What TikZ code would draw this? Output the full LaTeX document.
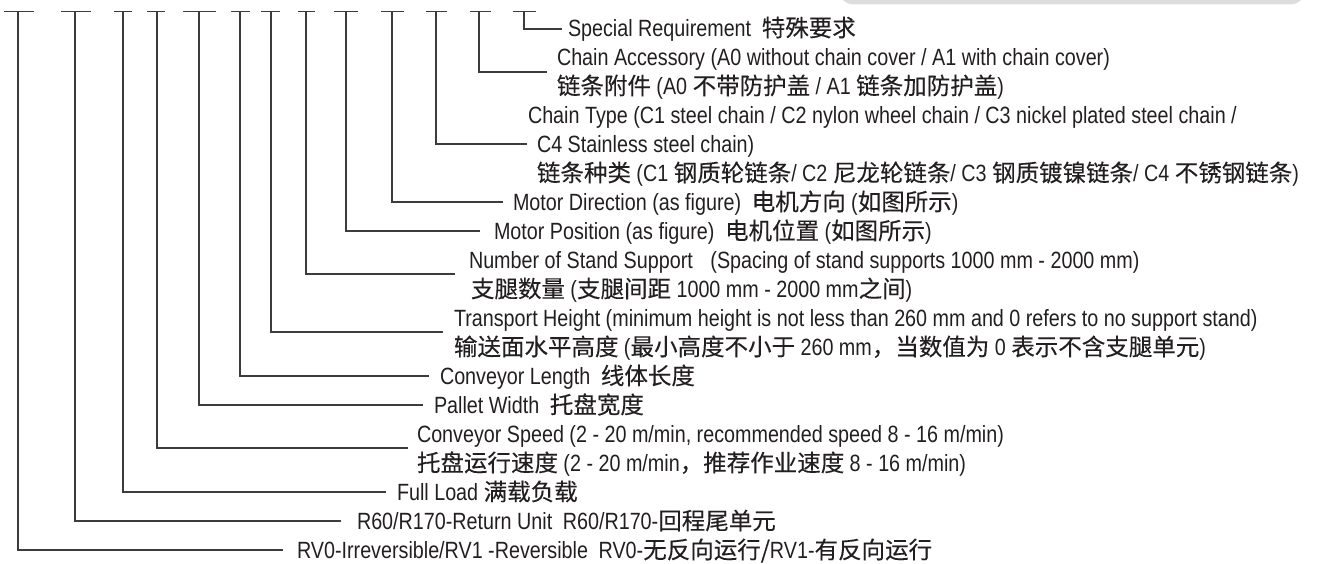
\documentclass[tikz,border=0pt]{standalone}
\usepackage{fontspec}
\setmainfont[FakeStretch=0.84]{Liberation Sans}
\newfontfamily\cjkf[Scale=1.0,FakeBold=0.2]{Noto Sans CJK SC}
\newcommand\zh[1]{{\cjkf #1}}
\newcommand\gapx{\hspace{0.45em}}
\definecolor{txtc}{HTML}{231F20}
\definecolor{linec}{HTML}{3C3C3C}
\definecolor{boxc}{HTML}{DDDDDD}
\begin{document}
\begin{tikzpicture}[x=1pt,y=-1pt,
  lbl/.style={anchor=base west,inner sep=0pt,outer sep=0pt,text=txtc,font=\fontsize{23.5}{28}\selectfont},
  conn/.style={draw=linec,line width=1.1pt},
  codebar/.style={draw=linec,line width=1.1pt}]
\useasboundingbox (0,0) rectangle (1329,564);
\fill[boxc, rounded corners=16pt] (838,-40) rectangle (1306,4.5);
% code ticks
\foreach \l/\r in {4/34, 61/91, 114/132, 147/165, 183/216, 231/250, 261/280, 298/315, 334/358, 381/404, 426/447, 470/491, 513/536}
  \draw[codebar] (\l,11.5) -- (\r,11.5);
% vertical start points
\coordinate (v1) at (18,11.5);
\coordinate (v2) at (75,11.5);
\coordinate (v3) at (123,11.5);
\coordinate (v4) at (157,11.5);
\coordinate (v5) at (199,11.5);
\coordinate (v6) at (240,11.5);
\coordinate (v7) at (271,11.5);
\coordinate (v8) at (306,11.5);
\coordinate (v9) at (346,11.5);
\coordinate (v10) at (392,11.5);
\coordinate (v11) at (436,11.5);
\coordinate (v12) at (479,11.5);
\coordinate (v13) at (524,11.5);
% connector ends
\coordinate (e13) at (562,29);
\coordinate (e12) at (547,72);
\coordinate (e11) at (527,144);
\coordinate (e10) at (503,202);
\coordinate (e9) at (480,231);
\coordinate (e8) at (455,274);
\coordinate (e7) at (443,332);
\coordinate (e6) at (429,376);
\coordinate (e5) at (423,405);
\coordinate (e4) at (408,448);
\coordinate (e3) at (386,492);
\coordinate (e2) at (341,521);
\coordinate (e1) at (283,550);
\foreach \i in {1,...,13} \draw[conn] (v\i) |- (e\i);
% labels
\node[lbl] (s1) at (568,36.4) {Special Requirement\gapx\zh{特殊要求}};
\node[lbl] (s2a) at (557,65.4) {Chain Accessory (A0 without chain cover / A1 with chain cover)};
\node[lbl] (s2b) at (557,94.4) {\zh{链条附件} (A0 \zh{不带防护盖} / A1 \zh{链条加防护盖})};
\node[lbl] (s3a) at (528,123.4) {Chain Type (C1 steel chain / C2 nylon wheel chain / C3 nickel plated steel chain /};
\node[lbl] (s3b) at (537,152.4) {C4 Stainless steel chain)};
\node[lbl] (s3c) at (537,181.4) {\zh{链条种类} (C1 \zh{钢质轮链条}/ C2 \zh{尼龙轮链条}/ C3 \zh{钢质镀镍链条}/ C4 \zh{不锈钢链条})};
\node[lbl] (s4) at (513,210.4) {Motor Direction (as figure)\gapx\zh{电机方向} (\zh{如图所示})};
\node[lbl] (s5) at (494,239.4) {Motor Position (as figure)\gapx\zh{电机位置} (\zh{如图所示})};
\node[lbl] (s6a) at (469,268.4) {Number of Stand Support\hspace{0.75em}(Spacing of stand supports 1000 mm - 2000 mm)};
\node[lbl] (s6b) at (471,297.4) {\zh{支腿数量} (\zh{支腿间距} 1000 mm - 2000 mm\zh{之间})};
\node[lbl] (s7a) at (454,326.4) {Transport Height (minimum height is not less than 260 mm and 0 refers to no support stand)};
\node[lbl] (s7b) at (454,355.4) {\zh{输送面水平高度} (\zh{最小高度不小于} 260 mm\zh{，当数值为} 0 \zh{表示不含支腿单元})};
\node[lbl] (s8) at (440,384.4) {Conveyor Length\gapx\zh{线体长度}};
\node[lbl] (s9) at (434,413.4) {Pallet Width\gapx\zh{托盘宽度}};
\node[lbl] (s10a) at (417,442.4) {Conveyor Speed (2 - 20 m/min, recommended speed 8 - 16 m/min)};
\node[lbl] (s10b) at (417,471.4) {\zh{托盘运行速度} (2 - 20 m/min\zh{，推荐作业速度} 8 - 16 m/min)};
\node[lbl] (s11) at (397,500.4) {Full Load \zh{满载负载}};
\node[lbl] (s12) at (357,529.4) {R60/R170-Return Unit\gapx R60/R170-\zh{回程尾单元}};
\node[lbl] (s13) at (297,558.4) {RV0-Irreversible/RV1 -Reversible\gapx RV0-\zh{无反向运行/}RV1-\zh{有反向运行}};
\end{tikzpicture}
\end{document}
